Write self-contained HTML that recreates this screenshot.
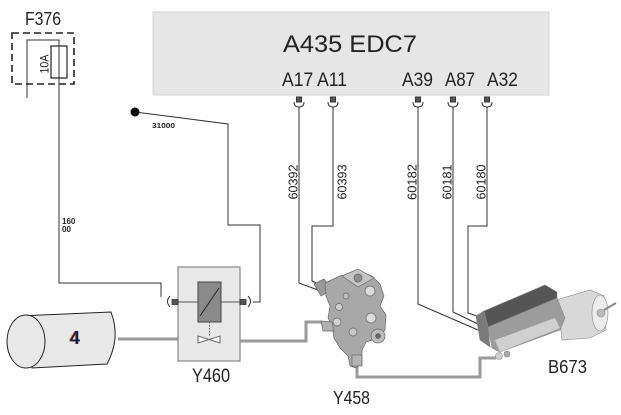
<!DOCTYPE html>
<html><head><meta charset="utf-8"><style>
html,body{margin:0;padding:0;background:#fff;}
svg{display:block;}
text{font-family:"Liberation Sans",sans-serif;fill:#222;}
</style></head><body>
<svg width="621" height="415" viewBox="0 0 621 415" xmlns="http://www.w3.org/2000/svg">
<rect width="621" height="415" fill="#fff"/>

<!-- ECU box -->
<rect x="153" y="12" width="396" height="83" fill="#e6e6e6" stroke="#d6d6d6" stroke-width="1"/>
<text x="283" y="52" font-size="24" textLength="134" lengthAdjust="spacingAndGlyphs">A435 EDC7</text>
<text x="282" y="86" font-size="19" textLength="65" lengthAdjust="spacingAndGlyphs">A17 A11</text>
<text x="402" y="86" font-size="19" textLength="31" lengthAdjust="spacingAndGlyphs">A39</text>
<text x="445" y="86" font-size="19" textLength="30" lengthAdjust="spacingAndGlyphs">A87</text>
<text x="487" y="86" font-size="19" textLength="31" lengthAdjust="spacingAndGlyphs">A32</text>

<!-- ECU connectors -->
<g stroke="#333" stroke-width="1" fill="none">
  <g>
    <rect x="296.5" y="97" width="5" height="5" fill="#555" stroke="#333"/>
    <path d="M294,102 Q294,107 299,107 Q304,107 304,102"/>
    <rect x="330.5" y="97" width="5" height="5" fill="#555" stroke="#333"/>
    <path d="M328,102 Q328,107 333,107 Q338,107 338,102"/>
    <rect x="415.5" y="97" width="5" height="5" fill="#555" stroke="#333"/>
    <path d="M413,102 Q413,107 418,107 Q423,107 423,102"/>
    <rect x="450.5" y="97" width="5" height="5" fill="#555" stroke="#333"/>
    <path d="M448,102 Q448,107 453,107 Q458,107 458,102"/>
    <rect x="484.5" y="97" width="5" height="5" fill="#555" stroke="#333"/>
    <path d="M482,102 Q482,107 487,107 Q492,107 492,102"/>
  </g>
  <!-- ECU wires -->
  <path d="M299,107 V283 L318,290"/>
  <path d="M333,107 V226 H312 V281 L321,285"/>
  <path d="M418,107 V304 L478,330"/>
  <path d="M453,107 V312 L480,325"/>
  <path d="M487,107 V226 H468 V313 L483,318"/>
</g>

<!-- wire labels rotated -->
<g font-size="13">
  <text transform="translate(293,182) rotate(-90)" text-anchor="middle" dy="0.36em" textLength="35" lengthAdjust="spacingAndGlyphs">60392</text>
  <text transform="translate(342,182) rotate(-90)" text-anchor="middle" dy="0.36em" textLength="35" lengthAdjust="spacingAndGlyphs">60393</text>
  <text transform="translate(412,182) rotate(-90)" text-anchor="middle" dy="0.36em" textLength="36" lengthAdjust="spacingAndGlyphs">60182</text>
  <text transform="translate(447,182) rotate(-90)" text-anchor="middle" dy="0.36em" textLength="35" lengthAdjust="spacingAndGlyphs">60181</text>
  <text transform="translate(481,182) rotate(-90)" text-anchor="middle" dy="0.36em" textLength="35" lengthAdjust="spacingAndGlyphs">60180</text>
</g>

<!-- F376 fuse -->
<text x="25" y="25" font-size="18" textLength="36" lengthAdjust="spacingAndGlyphs">F376</text>
<rect x="12" y="33" width="62" height="51" fill="none" stroke="#222" stroke-width="1.6" stroke-dasharray="7,4"/>
<rect x="51" y="46" width="16" height="32" fill="#fff" stroke="#222" stroke-width="1.2"/>
<text transform="translate(44,64) rotate(-90)" text-anchor="middle" dy="0.36em" font-size="12" textLength="19" lengthAdjust="spacingAndGlyphs">10A</text>
<g stroke="#333" stroke-width="1" fill="none">
  <path d="M27,98 V40 H59 V283 H161 V297"/>
  <path d="M170,296 Q165,301.5 170,307"/>
  <!-- 31000 wire -->
  <path d="M135,112 L228,124 V225 H260 V302 H253"/>
  <path d="M248,296 Q253,301.5 248,307"/>
</g>
<circle cx="135" cy="112" r="4.5" fill="#000"/>
<text x="152" y="128" font-size="7" font-weight="bold" textLength="23" lengthAdjust="spacingAndGlyphs">31000</text>
<text x="62" y="224" font-size="8" font-weight="bold">160</text>
<text x="62" y="232" font-size="8" font-weight="bold">00</text>

<!-- pipes -->
<g stroke="#9a9a9a" stroke-width="3" fill="none">
  <path d="M118,339 H178"/>
  <path d="M240,341 H306 V322 H322"/>
  <path d="M357,364 V377 H480 V358 H496"/>
</g>

<!-- Cylinder 4 -->
<path d="M30,315.5 L111,312 Q121,338 107,364 L32,368 Z" fill="#e8e8e8" stroke="#222" stroke-width="1"/>
<ellipse cx="26" cy="341.5" rx="19" ry="26.5" fill="#e8e8e8" stroke="#222" stroke-width="1"/>
<text x="69" y="344" font-size="18" font-weight="bold" style="fill:#e07020">4</text>
<text x="70" y="344" font-size="18" font-weight="bold" style="fill:#102050">4</text>

<!-- Y460 -->
<rect x="178" y="267" width="62" height="94" fill="#e8e8e8" stroke="#888" stroke-width="1.2"/>
<line x1="178" y1="302" x2="240" y2="302" stroke="#555" stroke-width="1"/>
<rect x="198" y="282" width="23" height="40" fill="#8a8a8a" stroke="#444" stroke-width="1"/>
<line x1="200" y1="316" x2="219" y2="288" stroke="#222" stroke-width="1"/>
<line x1="209.5" y1="322" x2="209.5" y2="336" stroke="#666" stroke-width="1" stroke-dasharray="1.5,1.5"/>
<path d="M198,336 L220,343 L220,336 L198,343 Z" fill="#fff" stroke="#666" stroke-width="1"/>
<rect x="172" y="299.5" width="6" height="5" fill="#555" stroke="#333" stroke-width="0.8"/>
<rect x="240" y="299.5" width="6" height="5" fill="#555" stroke="#333" stroke-width="0.8"/>
<text x="192" y="382" font-size="19" textLength="38" lengthAdjust="spacingAndGlyphs">Y460</text>

<!-- Y458 valve -->
<g stroke="#666" stroke-width="0.7">
  <polygon points="314,284 324,279 331,290 321,296" fill="#9a9a9a"/>
  <polygon points="325,283 340,276 350,274 362,272 372,276 380,284 384,296 380,306 386,315 385,330 378,338 366,342 362,350 362,362 356,368 350,366 348,356 340,348 334,338 332,326 328,318 330,306 326,296" fill="#a8a8a8"/>
  <polygon points="342,276 358,269 374,278 358,287" fill="#c4c4c4"/>
  <circle cx="358" cy="278" r="4" fill="#8c8c8c"/>
  <circle cx="370" cy="291" r="5" fill="#dcdcdc"/>
  <circle cx="371" cy="318" r="5" fill="#dcdcdc"/>
  <circle cx="339" cy="307" r="3.5" fill="#cfcfcf"/>
  <circle cx="337" cy="322" r="4" fill="#d0d0d0"/>
  <circle cx="353" cy="332" r="4" fill="#c8c8c8"/>
  <circle cx="346" cy="296" r="3" fill="#bdbdbd"/>
  <circle cx="378" cy="336" r="7" fill="#bcbcbc"/>
  <circle cx="378" cy="336" r="2.5" fill="#666"/>
  <polygon points="321,321 332,322 334,331 323,331" fill="#b0b0b0"/>
  <rect x="352" y="355" width="10" height="11" fill="#b5b5b5"/>
</g>
<text x="333" y="404" font-size="18" textLength="37" lengthAdjust="spacingAndGlyphs">Y458</text>

<!-- B673 -->
<g stroke="#888" stroke-width="0.6">
  <polygon points="556,300 590,290 604,296 606,330 590,338 562,340 560,322" fill="#d8d8d8"/>
  <polygon points="488,327 557,298 565,318 560,330 500,352 492,348" fill="#9c9c9c"/>
  <polygon points="495,340 555,318 560,328 500,352" fill="#d0d0d0" stroke="none"/>
  <polygon points="484,311 545,285 557,292 557,298 488,327" fill="#555"/>
  <polygon points="476,316 484,311 488,327 490,347 480,340" fill="#7a7a7a"/>
  <ellipse cx="600" cy="313" rx="8" ry="18" fill="#ececec"/>
  <circle cx="601" cy="313" r="4" fill="#bbb"/>
  <circle cx="499" cy="356" r="3.5" fill="#d0d0d0"/>
  <circle cx="507" cy="354" r="3" fill="#aaa"/>
</g>
<line x1="604" y1="310" x2="616" y2="303" stroke="#888" stroke-width="2"/>
<text x="548" y="373" font-size="18" textLength="39" lengthAdjust="spacingAndGlyphs">B673</text>
</svg>
</body></html>
